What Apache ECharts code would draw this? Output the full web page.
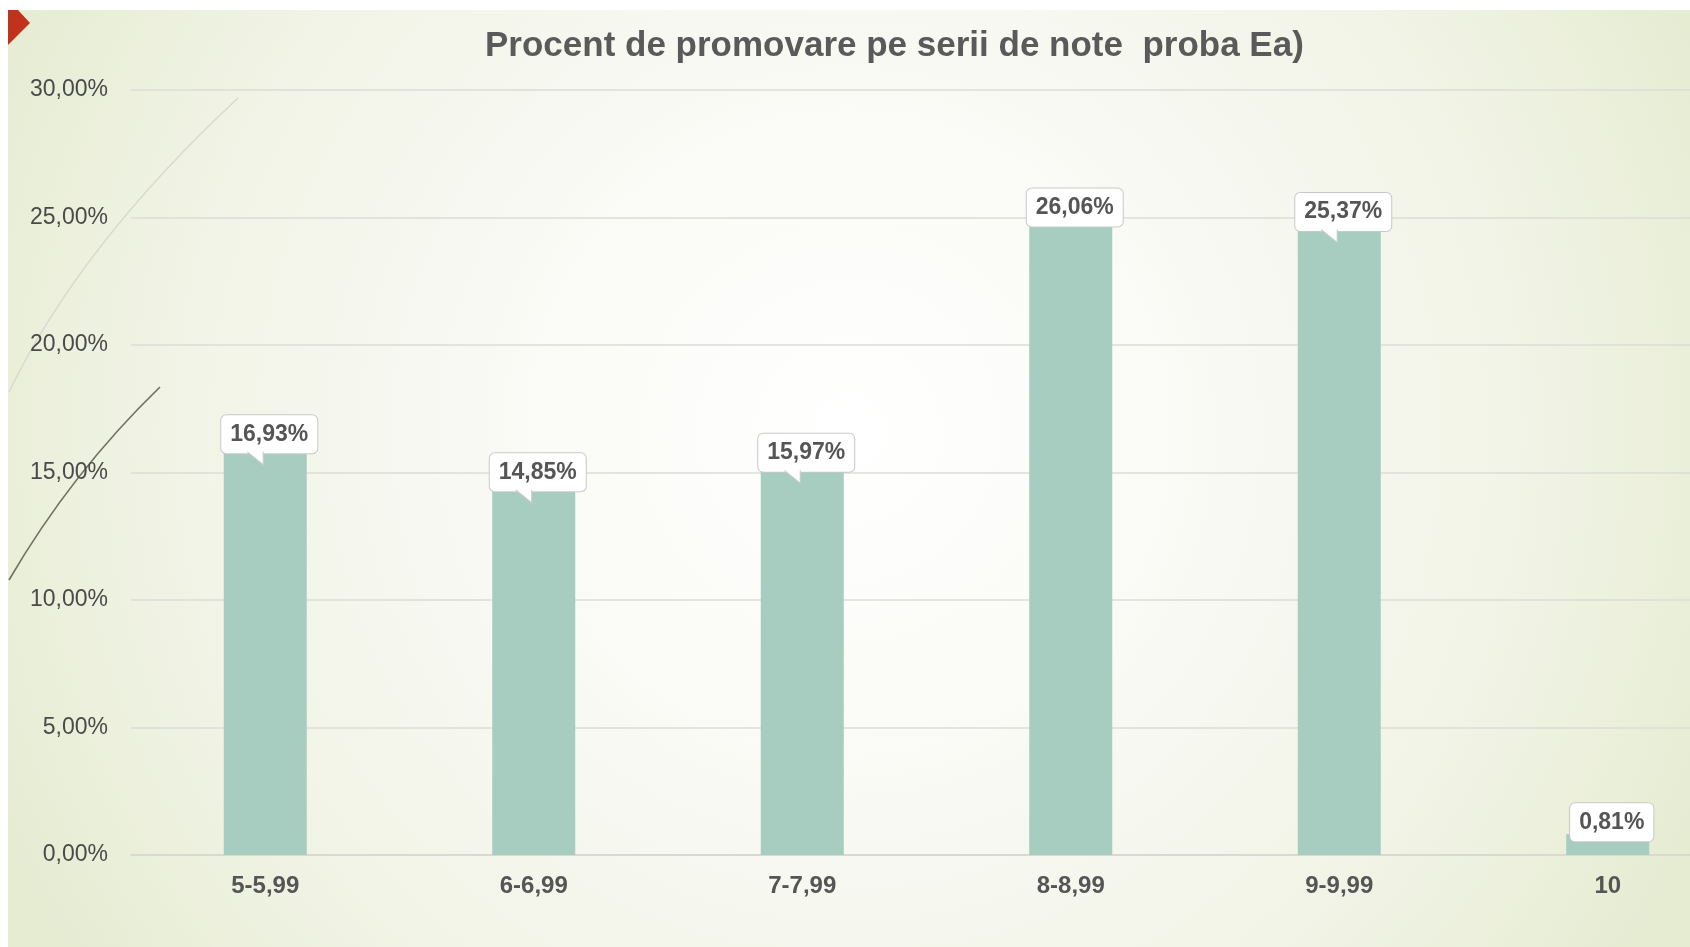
<!DOCTYPE html>
<html>
<head>
<meta charset="utf-8">
<style>
html,body{margin:0;padding:0;background:#ffffff;}
#chart{width:1690px;height:947px;}
</style>
<script src="https://cdn.jsdelivr.net/npm/echarts@6/dist/echarts.min.js"></script>
</head>
<body>
<div id="chart"></div>
<script>
const titleText = 'Procent de promovare pe serii de note  proba Ea)';
const categories = ['5-5,99', '6-6,99', '7-7,99', '8-8,99', '9-9,99', '10'];
const values = [16.93, 14.85, 15.97, 26.06, 25.37, 0.81];
const yTicks = { min: 0, max: 30, interval: 5 };

const fmt = v => Number(v).toFixed(2).replace('.', ',') + '%';
const chart = echarts.init(document.getElementById('chart'), null, { renderer: 'canvas' });
const textColor = '#555555';
const font = '"Liberation Sans", Arial, sans-serif';

// callout placement as in the original (vertical shift of each label box, px)
const calloutShift = [11, -4, 5, 17, 4, -12];
const pointerShown = [true, true, true, false, true, false];

chart.setOption({
  animation: false,
  backgroundColor: '#ffffff',
  title: {
    text: titleText,
    left: 480,
    top: 24,
    textStyle: { fontFamily: font, fontSize: 35, fontWeight: 'bold', color: '#5a5a5a' }
  },
  graphic: [
    {
      type: 'rect', z: -10, silent: true,
      shape: { x: 8, y: 10, width: 1682, height: 937 },
      style: {
        fill: {
          type: 'radial', x: 0.5, y: 0.45, r: 1.0,
          colorStops: [
            { offset: 0, color: '#ffffff' },
            { offset: 0.35, color: '#fafaf6' },
            { offset: 0.75, color: '#f0f3e4' },
            { offset: 1, color: '#e6ecd2' }
          ]
        }
      }
    },
    {
      type: 'bezierCurve', z: -5, silent: true,
      shape: { x1: 9, y1: 392, cpx1: 80, cpy1: 245, x2: 238, y2: 98 },
      style: { stroke: '#d9dacd', lineWidth: 1.5, fill: null }
    },
    {
      type: 'bezierCurve', z: -5, silent: true,
      shape: { x1: 9, y1: 580, cpx1: 72, cpy1: 472, x2: 160, y2: 387 },
      style: { stroke: '#6f6f60', lineWidth: 1.6, fill: null }
    },
    {
      type: 'polygon', z: -5, silent: true,
      shape: { points: [[8, 10], [18, 10], [30, 23], [8, 45]] },
      style: { fill: '#c0321b' }
    }
  ],
  grid: { left: 131, top: 90, width: 1611, height: 765, outerBoundsMode: 'none', containLabel: false },
  xAxis: {
    type: 'category',
    data: categories,
    axisLine: { show: true, lineStyle: { color: '#d6d6d0', width: 1.5 } },
    axisTick: { show: false },
    axisLabel: { margin: 19, fontFamily: font, fontSize: 24, fontWeight: 'bold', color: textColor }
  },
  yAxis: {
    type: 'value',
    min: yTicks.min, max: yTicks.max, interval: yTicks.interval,
    axisLine: { show: false },
    axisTick: { show: false },
    splitLine: { lineStyle: { color: '#dcdcd6', width: 1.5 } },
    axisLabel: { margin: 23, fontFamily: font, fontSize: 23, color: '#4a4a4a', formatter: fmt }
  },
  series: [{
    type: 'bar',
    data: values.map((v, i) => ({ value: v, label: { offset: [4, calloutShift[i]] } })),
    barWidth: 83,
    itemStyle: { color: '#a6cdbf' },
    label: {
      show: true,
      position: 'top',
      distance: -19,
      formatter: p => fmt(p.value),
      fontFamily: font, fontSize: 23, fontWeight: 'bold', color: textColor,
      backgroundColor: '#ffffff',
      borderColor: '#c9c9c9', borderWidth: 1, borderRadius: 5,
      padding: [7, 9, 7, 9],
      lineHeight: 24
    },
    markPoint: {
      silent: true,
      symbol: 'path://M0,0 L16,12 L16,0',
      symbolSize: [16, 13],
      symbolKeepAspect: false,
      label: { show: false },
      itemStyle: { color: '#ffffff', borderColor: '#c9c9c9', borderWidth: 1 },
      data: values.map((v, i) => ({ coord: [i, v], i }))
        .filter(d => pointerShown[d.i])
        .map(d => ({ coord: d.coord, symbolOffset: [4 - 14, calloutShift[d.i] + 19 + 5] }))
    }
  }]
});
</script>
</body>
</html>
